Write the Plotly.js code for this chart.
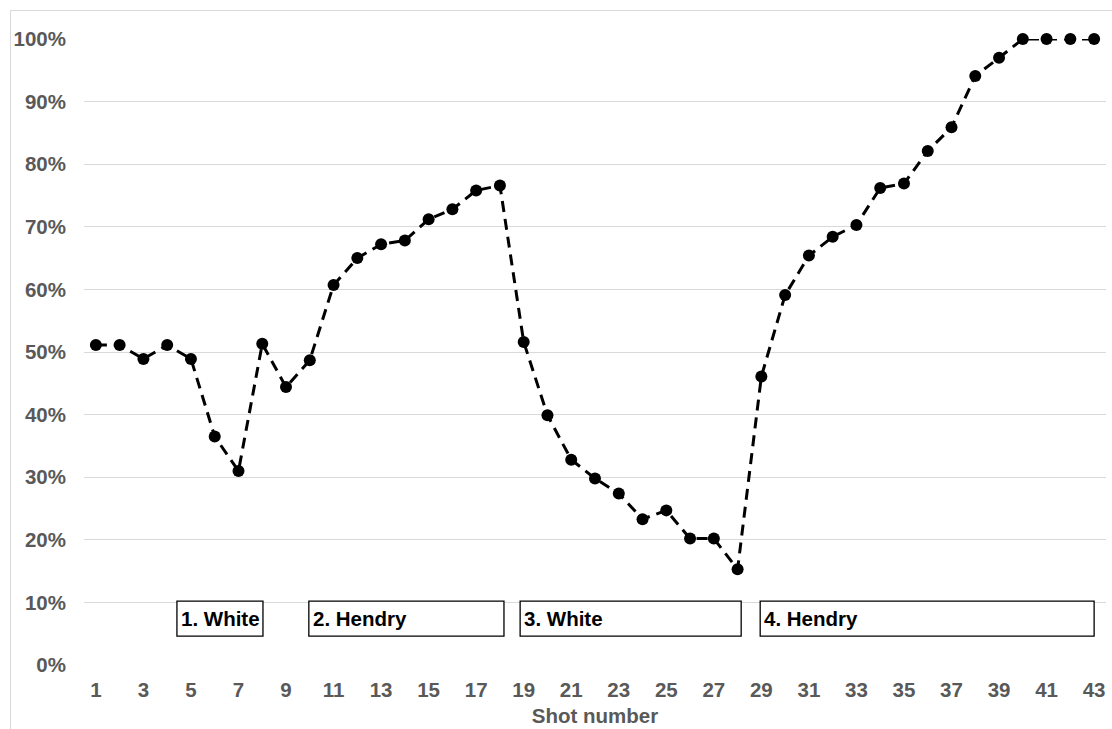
<!DOCTYPE html>
<html>
<head>
<meta charset="utf-8">
<script src="https://cdn.plot.ly/plotly-3.0.1.min.js"></script>
<style>
  html, body { margin: 0; padding: 0; background: #ffffff; }
  #frame { position: absolute; left: 10px; top: 10px; width: 1200px; height: 800px;
           border-left: 1px solid #d9d9d9; border-top: 1px solid #d9d9d9; }
  #chart { position: absolute; left: 0; top: 0; width: 1112px; height: 729px; }
</style>
</head>
<body>
<div id="frame"></div>
<div id="chart"></div>
<script>
// Shot-by-shot win probability across the frame
const shots = [];
for (let i = 1; i <= 43; i++) shots.push(i);

const winProb = [
  0.511, 0.511, 0.489, 0.511, 0.489, 0.365, 0.310, 0.513, 0.444, 0.487,
  0.607, 0.650, 0.672, 0.678, 0.712, 0.728, 0.758, 0.766, 0.516, 0.399,
  0.328, 0.298, 0.274, 0.233, 0.247, 0.202, 0.202, 0.153, 0.461, 0.591,
  0.654, 0.684, 0.703, 0.762, 0.769, 0.821, 0.859, 0.941, 0.970, 1.000,
  1.000, 1.000, 1.000
];

const tickShots = [1, 3, 5, 7, 9, 11, 13, 15, 17, 19, 21, 23, 25, 27, 29, 31, 33, 35, 37, 39, 41, 43];

// Visit phases: label, first shot edge, last shot edge
const phaseLabels = ['1. White', '2. Hendry', '3. White', '4. Hendry'];
const phaseStart = [4.41, 9.96, 18.85, 28.95];
const phaseEnd = [8.03, 18.17, 28.15, 43.0];

const grey = '#595959';
const font = { family: 'Liberation Sans, Arial, sans-serif', size: 20.5, color: grey, weight: 'bold' };

const trace = {
  x: shots,
  y: winProb,
  type: 'scatter',
  mode: 'lines+markers',
  line: { color: '#000000', width: 3, dash: '11px,7px' },
  marker: { color: '#000000', size: 12 },
  cliponaxis: false,
  hoverinfo: 'x+y'
};

const shapes = phaseLabels.map((_, i) => ({
  type: 'rect', xref: 'x', yref: 'y',
  x0: phaseStart[i], x1: phaseEnd[i], y0: 0.046, y1: 0.102,
  line: { color: '#000000', width: 1.3 }, fillcolor: '#ffffff', layer: 'above'
}));

const annotations = phaseLabels.map((t, i) => ({
  text: t, xref: 'x', yref: 'y',
  x: phaseStart[i] + 0.08, y: 0.074, xanchor: 'left', yanchor: 'middle',
  showarrow: false,
  font: { family: 'Liberation Sans, Arial, sans-serif', size: 20.5, color: '#000000', weight: 'bold' }
}));

const layout = {
  width: 1112, height: 729,
  margin: { l: 84, r: 6, t: 38.5, b: 64 },
  paper_bgcolor: 'rgba(0,0,0,0)',
  plot_bgcolor: 'rgba(0,0,0,0)',
  showlegend: false,
  xaxis: {
    range: [0.5, 43.5],
    tickvals: tickShots,
    ticktext: tickShots.map(String),
    showgrid: false, zeroline: false, showline: false,
    ticks: '', ticklen: 0,
    ticklabelstandoff: 10,
    tickfont: font,
    title: { text: 'Shot number', font: font, standoff: 9 }
  },
  yaxis: {
    range: [0, 1],
    tickvals: [0, 0.1, 0.2, 0.3, 0.4, 0.5, 0.6, 0.7, 0.8, 0.9, 1.0],
    tickformat: '.0%',
    showgrid: true, gridcolor: '#d9d9d9', gridwidth: 1,
    zeroline: false, showline: false,
    ticks: '', ticklabelstandoff: 17,
    tickfont: font
  },
  shapes: shapes,
  annotations: annotations
};

Plotly.newPlot('chart', [trace], layout, { displayModeBar: false, staticPlot: true });
</script>
</body>
</html>
